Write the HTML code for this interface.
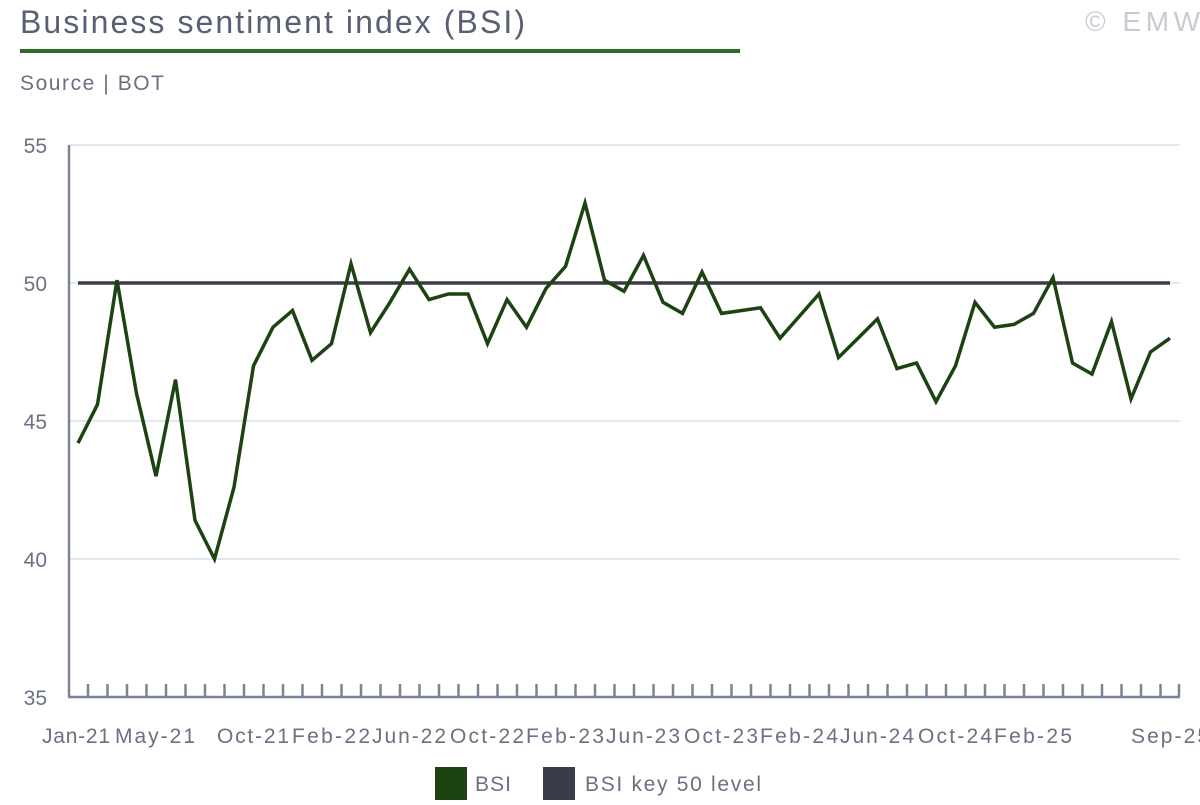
<!DOCTYPE html>
<html><head><meta charset="utf-8"><style>
body{margin:0;width:1200px;height:800px;background:#fff;overflow:hidden;font-family:"Liberation Sans",sans-serif}
</style></head><body>
<svg width="1200" height="800" xmlns="http://www.w3.org/2000/svg" font-family="Liberation Sans, sans-serif">
<text x="20" y="33" font-size="32" fill="#5a5f73" textLength="505" lengthAdjust="spacing">Business sentiment index (BSI)</text>
<text x="1085" y="31" font-size="28" fill="#c8cbd3" textLength="115">© EMW</text>
<rect x="20" y="49" width="720" height="4" fill="#2e6b2a"/>
<text x="20" y="90" font-size="21" fill="#6b7082" textLength="144">Source | BOT</text>
<g stroke="#d5e2ee" stroke-width="1.5">
<line x1="69" y1="145" x2="1180" y2="145"/><line x1="69" y1="283" x2="1180" y2="283"/>
<line x1="69" y1="421" x2="1180" y2="421"/><line x1="69" y1="559" x2="1180" y2="559"/>
</g>
<g font-size="21" fill="#6b7082" text-anchor="end">
<text x="47" y="153">55</text><text x="47" y="291">50</text><text x="47" y="429">45</text><text x="47" y="567">40</text><text x="47" y="705">35</text>
</g>
<g stroke="#7b8398" stroke-width="2.5" fill="none">
<line x1="69" y1="145" x2="69" y2="697"/><line x1="68" y1="697" x2="1180" y2="697"/>
</g>
<g id="tk" stroke="#7b8398" stroke-width="2.5"></g>
<g font-size="21" fill="#6b7082" text-anchor="middle">
<text x="76" y="743" textLength="68">Jan-21</text><text x="155" y="743" textLength="80">May-21</text><text x="253" y="743" textLength="72">Oct-21</text>
<text x="331" y="743" textLength="78">Feb-22</text><text x="409" y="743" textLength="74">Jun-22</text><text x="487" y="743" textLength="74">Oct-22</text>
<text x="565" y="743" textLength="78">Feb-23</text><text x="643" y="743" textLength="74">Jun-23</text><text x="721" y="743" textLength="74">Oct-23</text>
<text x="799" y="743" textLength="78">Feb-24</text><text x="877" y="743" textLength="74">Jun-24</text><text x="955" y="743" textLength="74">Oct-24</text>
<text x="1033" y="743" textLength="78">Feb-25</text><text x="1170" y="743" textLength="78">Sep-25</text>
</g>
<line x1="78" y1="283" x2="1170" y2="283" stroke="#3a3d48" stroke-width="3.5"/>
<polyline id="bsi" fill="none" stroke="#1d4313" stroke-width="3.5" stroke-linejoin="miter" points=""/>
<rect x="435" y="767" width="32" height="33" fill="#1d4313"/>
<text x="475" y="791" font-size="21" fill="#6b7082" textLength="36">BSI</text>
<rect x="543" y="767" width="32" height="33" fill="#3a3d48"/>
<text x="585" y="791" font-size="21" fill="#6b7082" textLength="176">BSI key 50 level</text>
</svg>
<script>
var d=[44.2,45.6,50.1,46,43,46.5,41.4,40,42.6,47,48.4,49,47.2,47.8,50.7,48.2,49.3,50.5,49.4,49.6,49.6,47.8,49.4,48.4,49.8,50.6,52.9,50.1,49.7,51,49.3,48.9,50.4,48.9,49,49.1,48,48.8,49.6,47.3,48,48.7,46.9,47.1,45.7,47,49.3,48.4,48.5,48.9,50.2,47.1,46.7,48.6,45.8,47.5,48];
var p=d.map(function(v,i){return (78+i*19.5).toFixed(1)+","+(283-(v-50)*27.6).toFixed(1)}).join(" ");
document.getElementById("bsi").setAttribute("points",p);
var g=document.getElementById("tk"),s="";
for(var i=0;i<56;i++){var x=88+i*19.5;s+='<line x1="'+x+'" y1="684" x2="'+x+'" y2="697"/>';}
s+='<line x1="1179" y1="684" x2="1179" y2="697"/>';
g.innerHTML=s;
</script>
</body></html>
